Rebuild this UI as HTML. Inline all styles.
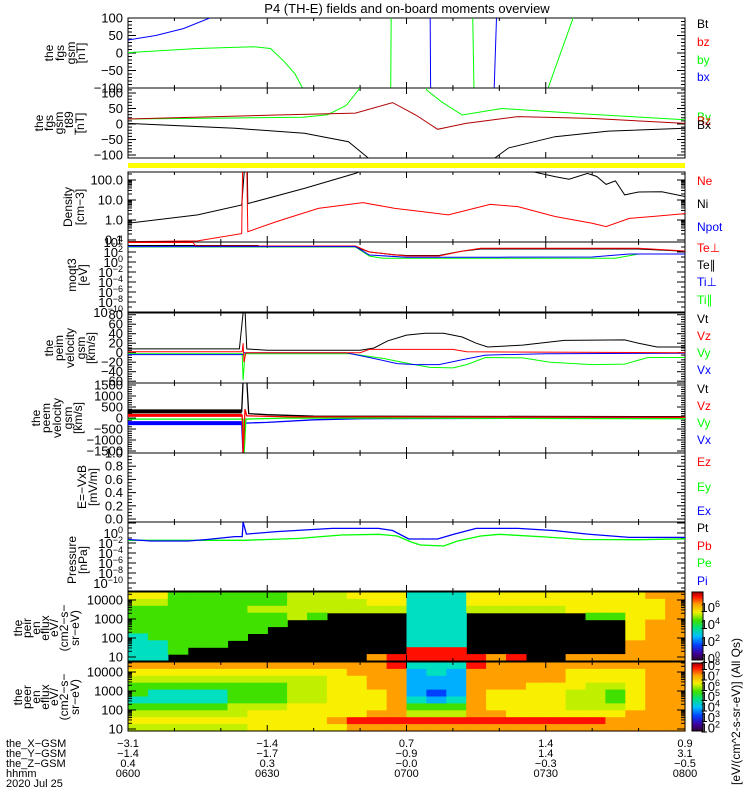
<!DOCTYPE html>
<html><head><meta charset="utf-8"><style>
html,body{margin:0;padding:0;background:#fff;}
svg{display:block;font-family:"Liberation Sans",sans-serif;}
</style></head><body>
<svg id="chart" width="750" height="800" viewBox="0 0 750 800" xmlns="http://www.w3.org/2000/svg">
<rect x="0" y="0" width="750" height="800" fill="#fff"/>
<text x="407" y="13" font-size="13" text-anchor="middle">P4 (TH-E) fields and on-board moments overview</text>
<defs>
<linearGradient id="cbar" x1="0" y1="1" x2="0" y2="0">
<stop offset="0" stop-color="#300030"/><stop offset="0.1" stop-color="#4000a0"/><stop offset="0.22" stop-color="#0040ff"/>
<stop offset="0.35" stop-color="#00c0ff"/><stop offset="0.47" stop-color="#00e080"/><stop offset="0.58" stop-color="#40e000"/>
<stop offset="0.7" stop-color="#f0f000"/><stop offset="0.82" stop-color="#ffa000"/><stop offset="0.93" stop-color="#ff1000"/><stop offset="1" stop-color="#a00000"/>
</linearGradient>
</defs>
<g id="layer"></g>
</svg>
<script>
// ---------- DATA ----------
const timeTickLabels=["0600","0630","0700","0730","0800"];
const xGsmLabels=["-3.1","-1.4","0.7","1.4","0.9"];
const yGsmLabels=["-1.4","-1.7","-0.9","1.4","3.1"];
const zGsmLabels=["0.4","0.3","-0.0","-0.3","-0.5"];
// panel 1 fgs gsm
const fgsBx=[[0,37],[6,50],[12,70],[17.6,100],[18,300],[65,300],[65.3,-300],[78.4,-300],[79.4,100],[79.6,300],[120,300]];
const fgsBy=[[0,1],[15,13],[27,18],[30.7,13],[33.7,-25],[36,-60],[37.6,-100],[38,-300],[56.5,-300],[56.8,300],[74,300],[74.8,-300],[90.5,-100],[95.9,100],[96.5,300],[120,300]];
// panel 2 fgs - t89
const t89Bz=[[0,16],[32,29],[49,35],[57,69],[62,29],[66.7,-17],[72.8,2],[84,24],[99.7,18],[120,2]];
const t89By=[[0,16],[37.6,22],[43,30],[47,60],[49.8,113],[50.5,200],[63.8,200],[64.3,110],[67.5,72],[72,29],[80.5,50],[100,31],[120,14]];
const t89Bx=[[0,2],[23,-14],[38,-30],[47.5,-57],[51.8,-110],[52.5,-200],[78.5,-200],[79,-110],[82,-77],[92,-41],[103.5,-23],[120,-14]];
// panel 3 density
const densNi=[[0,0.68],[15,1.8],[24.5,5.6],[25.1,400],[25.7,400],[25.8,6.6],[38,38],[49,214],[52,400],[83.6,400],[92,148],[95,110],[99,214],[101,150],[103,60],[105,90],[107,18],[110,25],[115,26],[120,15]];
const densNe=[[0,0.083],[15,0.09],[24.5,0.21],[24.7,400],[25.6,400],[25.8,0.26],[32,0.83],[41,3.8],[50.6,7.4],[57.5,3.8],[63.6,2.6],[69,1.8],[78,6],[84,4.7],[92,1.5],[100,0.68],[103,0.47],[108,1.2],[113,1.5],[120,2.1]];
// panel 4 temperatures
const tempTePerp=[[0,8000],[14,8000],[14.6,1600],[49,1600],[52,100],[57,30],[60,16],[67,16],[72,150],[76,550],[110,550],[120,160]];
const tempTePar=[[0,2000],[28,2000],[28.5,1000],[49,1000],[52,100],[57,30],[60,20],[67,20],[72,150],[76,400],[110,400],[120,140]];
const tempTiPerp=[[0,1200],[49,1200],[52,25],[60,9],[80,9],[100,10],[108,40],[120,40]];
const tempTiPar=[[0,1000],[49,1000],[52,15],[55,5.4],[105,5.4],[110,40],[120,40]];
// panel 5 peim velocity
const peimVt=[[0,8],[24,8],[24.8,84],[25.2,90],[25.6,8],[30,5],[50,5],[53,10],[56,25],[60,37],[64,41],[68,41],[72,33],[75,20],[77.5,12],[85,16],[94,26],[107,27],[110,20],[114,12],[120,12]];
const peimVz=[[0,2],[24.6,2],[24.8,20],[25,-20],[25.4,0],[50,0],[52,7],[70,7],[73,2],[120,0]];
const peimVy=[[0,-2],[24.6,-2],[24.8,-58],[25.2,-2],[48,-2],[55,-12],[60,-22],[65,-31],[70,-32],[73,-25],[77,-10],[85,-11],[91,-20],[100,-25],[107,-24],[112,-10],[120,-10]];
const peimVx=[[0,-4],[24.8,-4],[25,0],[47,0],[52,-10],[58,-23],[62,-25],[67,-25],[72,-15],[77,-5],[90,-2],[120,-1]];
// panel 6 peem velocity
const peemVt=[[0,300],[24.5,300],[24.8,1700],[25.6,1700],[26,200],[30,150],[40,80],[120,60]];
const peemVz=[[0,120],[24.6,120],[24.8,-1700],[25.2,400],[25.6,100],[35,50],[60,50],[120,30]];
const peemVy=[[0,-50],[24.8,-50],[25,-1700],[25.4,-50],[35,0],[120,-30]];
const peemVx=[[0,-230],[24.5,-230],[24.8,-1700],[25.2,-230],[30,-200],[40,-80],[50,-30],[120,0]];
// panel 8 pressure
const presPt=[[0,0.05],[5,0.025],[13,0.025],[17,0.05],[23,0.19],[24.6,0.19],[24.8,160],[25.5,0.6],[32,1.9],[38,4],[44,8.5],[54,8.5],[57,3.2],[60.5,0.063],[66.7,0.063],[70,0.5],[75,8.5],[84,8.5],[92,3],[99,0.6],[108,0.13],[120,0.13]];
const presPe=[[0,0.035],[25,0.035],[30,0.05],[37,0.085],[46,0.4],[54,0.54],[58,0.25],[61,0.016],[63,0.004],[68,0.0025],[71,0.025],[76,0.25],[80,0.54],[90,0.16],[98,0.05],[110,0.045],[120,0.07]];
// spectrograms: 28 time bins x 10 energy bins (top=high energy), digit = colour level, '.' = no data
const peirGrid=[
"7755555566677744477777777788",
"6655555566667744477777777778",
"5555556666666644466666777778",
"5555555565....444......55778",
"55555555......444........788",
"5555555.......444........788",
"455555........444........788",
"44555.........444........888",
"445...........999........888",
"44..........89999989..888888"];
const peerGrid=[
"8888888888888944498888888888",
"7777777777788834388888777788",
"6666666666778833388888777788",
"5555555566778833388877766788",
"5444455566777832387777665788",
"4444455566777843487777665788",
"5555566677777855587777666788",
"6666667777778866688777777888",
"7777777777899999999999998888",
"6666667777788888888888888888"];
const specTimeEdges=[0,120];
const colorbarUpperLabels=[6,4,2,0];
const colorbarLowerLabels=[8,7,6,5,4,3,2];

// ---------- LAYOUT / HELPERS ----------
const NS="http://www.w3.org/2000/svg";
const layer=document.getElementById('layer');
const X0=128,X1=685,T0=0,T1=120;
function xs(t){return X0+(t-T0)/(T1-T0)*(X1-X0);}
function mk(tag,attrs,parent){const e=document.createElementNS(NS,tag);for(const k in attrs)e.setAttribute(k,attrs[k]);(parent||layer).appendChild(e);return e;}
function linScale(top,bot,min,max){return v=>bot-(v-min)/(max-min)*(bot-top);}
function logScale(top,bot,lmin,lmax){return v=>bot-(Math.log10(v)-lmin)/(lmax-lmin)*(bot-top);}
const COLS=["#300030","#4000a0","#0040ff","#00b0ff","#00e0c0","#40e000","#c0f000","#f8f000","#ffa000","#ff1000"];

let clipId=0;
function panel(name,top,bot){
  const r=mk('rect',{x:X0,y:top,width:X1-X0,height:bot-top,fill:'none',stroke:'#000','stroke-width':1});
  
  
  const id='clip'+(clipId++);
  const cp=mk('clipPath',{id:id});
  mk('rect',{x:X0,y:top,width:X1-X0,height:bot-top},cp);
  for(let t=10;t<120;t+=10){
    const len=(t%30===0)?6:3;
    mk('line',{x1:xs(t),x2:xs(t),y1:top,y2:top+len,stroke:'#000'});
    mk('line',{x1:xs(t),x2:xs(t),y1:bot,y2:bot-len,stroke:'#000'});
  }
  return id;
}
function yTick(y,len){
  mk('line',{x1:X0,x2:X0+len,y1:y,y2:y,stroke:'#000'});
  mk('line',{x1:X1,x2:X1-len,y1:y,y2:y,stroke:'#000'});
}
function yLabel(y,txt,name){
  const t=mk('text',{x:123,y:y+4.5,'font-size':13,'text-anchor':'end'});
  t.textContent=txt;
  
  
}
function yExpLabel(y,exp,name,x){
  const t=mk('text',{x:x||123,y:y+5,'font-size':13,'text-anchor':'end'});
  t.appendChild(document.createTextNode('10'));
  const s=mk('tspan',{dy:-5,'font-size':9},t);
  s.textContent=String(exp);
  
  
}
function series(data,sc,color,clip,name,width){
  const pts=data.map(d=>xs(d[0]).toFixed(1)+','+sc(d[1]).toFixed(1)).join(' ');
  const p=mk('polyline',{points:pts,fill:'none',stroke:color,'stroke-width':width||1,'clip-path':'url(#'+clip+')'});
  
  
}
function axisTitle(lines,xsPos,cy,name){
  const g=mk('g',{});
  
  
  lines.forEach((s,i)=>{const t=mk('text',{x:xsPos[i]+4,y:cy,'font-size':12,'text-anchor':'middle',transform:'rotate(-90 '+(xsPos[i]+4)+' '+cy+')'},g);t.textContent=s;});
}
function legend(items,name){
  items.forEach(it=>{const t=mk('text',{x:697,y:it[2],'font-size':12,fill:it[1]});t.textContent=it[0];
    
    });
}
const RED="#ff0000",GRN="#00ff00",BLU="#0000ff",BLK="#000000";

// ---------- PANEL 1 ----------
{const top=18,bot=88,c=panel('fgs-panel',top,bot),sc=linScale(top,bot,-100,100);
 for(let v=-100;v<=100;v+=10)yTick(sc(v),v%50===0?8:4);
 [100,50,0,-50,-100].forEach(v=>yLabel(sc(v),v===0?'0':String(v).replace('-','\u2212'),'fgs-y-tick'));
 series(fgsBy,sc,GRN,c,'fgs-by-line');series(fgsBx,sc,BLU,c,'fgs-bx-line');
 axisTitle(['the','fgs','gsm','[nT]'],[49,60,71,81],53,'fgs-y-axis-title');
 legend([['Bt',BLK,28],['bz',RED,46],['by',GRN,64],['bx',BLU,81]],'fgs-legend');}
// ---------- PANEL 2 ----------
{const top=88,bot=158,c=panel('fgs-t89-panel',top,bot),sc=linScale(top,bot,-109.7,116.1);
 for(let v=-100;v<=110;v+=10)yTick(sc(v),v%50===0?8:4);
 [100,50,0,-50,-100].forEach(v=>yLabel(sc(v),v===0?'0':String(v).replace('-','\u2212'),'t89-y-tick'));
 series(t89By,sc,GRN,c,'t89-by-line');series(t89Bz,sc,'#b00000',c,'t89-bz-line');series(t89Bx,sc,BLK,c,'t89-bx-line');
 axisTitle(['the','fgs','gsm','_t89','[nT]'],[39,49,59,69,80],123,'t89-y-axis-title');
 legend([['By',GRN,121],['Bz',RED,125],['Bx',BLK,129]],'t89-legend');}
{const y=mk('rect',{x:X0,y:163,width:X1-X0,height:5,fill:'#ffff00'});
 }
// ---------- PANEL 3 ----------
{const top=172,bot=242,c=panel('density-panel',top,bot),sc=logScale(top,bot,-1.1,2.4);
 for(let d=-1;d<=2;d++){for(let m=1;m<10;m++){const v=m*Math.pow(10,d);const y=sc(v);if(y>=top&&y<=bot)yTick(y,m===1?8:4);}}
 [['100.0',100],['10.0',10],['1.0',1],['0.1',0.1]].forEach(l=>yLabel(sc(l[1]),l[0],'density-y-tick'));
 series(densNi,sc,BLK,c,'density-ni-line');series(densNe,sc,RED,c,'density-ne-line');
 axisTitle(['Density','[cm\u22123]'],[68,80],207,'density-y-axis-title');
 legend([['Ne',RED,185],['Ni',BLK,208],['Npot',BLU,231]],'density-legend');}
// ---------- PANEL 4 ----------
{const top=242,bot=312,c=panel('temperature-panel',top,bot),sc=logScale(top,bot,-10,4);
 for(let e=-10;e<=4;e++)yTick(sc(Math.pow(10,e)),e%2===0?8:4);
 [4,2,0,-2,-4,-6,-8,-10].forEach(e=>yExpLabel(sc(Math.pow(10,e)),e<0?'\u2212'+(-e):e,'temp-y-tick'));
 series(tempTePar,sc,BLK,c,'temp-tepar-line');series(tempTePerp,sc,RED,c,'temp-teperp-line');
 series(tempTiPar,sc,GRN,c,'temp-tipar-line');series(tempTiPerp,sc,BLU,c,'temp-tiperp-line');
 axisTitle(['moqt3','[eV]'],[72,83],275,'temp-y-axis-title');
 legend([['Te\u22a5',RED,252],['Te\u2225',BLK,269],['Ti\u22a5',BLU,286],['Ti\u2225',GRN,304]],'temp-legend');}
// ---------- PANEL 5 ----------
{const top=313,bot=383,c=panel('peim-velocity-panel',top,bot),sc=linScale(top,bot,-63.8,83.6);
 for(let v=-60;v<=80;v+=5)yTick(sc(v),v%20===0?8:4);
 [80,60,40,20,0,-20,-40,-60].forEach(v=>yLabel(sc(v),String(v).replace('-','\u2212'),'peim-y-tick'));
 series(peimVt,sc,BLK,c,'peim-vt-line');series(peimVy,sc,GRN,c,'peim-vy-line');
 series(peimVx,sc,BLU,c,'peim-vx-line');series(peimVz,sc,RED,c,'peim-vz-line');
 axisTitle(['the','peim','velocity','gsm','[km/s]'],[49,59,70,81,91],348,'peim-y-axis-title');
 legend([['Vt',BLK,323],['Vz',RED,340],['Vy',GRN,357],['Vx',BLU,374]],'peim-legend');}
// ---------- PANEL 6 ----------
{const top=383,bot=453,c=panel('peem-velocity-panel',top,bot),sc=linScale(top,bot,-1591,1591);
 for(let v=-1500;v<=1500;v+=100)yTick(sc(v),v%500===0?8:4);
 [1500,1000,500,0,-500,-1000,-1500].forEach(v=>yLabel(sc(v),String(v).replace('-','\u2212'),'peem-y-tick'));
 const early=a=>a.filter(d=>d[0]<=24.6);
 series(early(peemVx),sc,BLU,c,'peem-vx-noise',4);series(early(peemVy),sc,GRN,c,'peem-vy-noise',3);
 series(early(peemVt),sc,BLK,c,'peem-vt-noise',4);series(early(peemVz),sc,RED,c,'peem-vz-noise',3);
 series(peemVx,sc,BLU,c,'peem-vx-line',1.3);series(peemVy,sc,GRN,c,'peem-vy-line',1.3);
 series(peemVt,sc,BLK,c,'peem-vt-line',1.3);series(peemVz,sc,RED,c,'peem-vz-line',1.3);
 axisTitle(['the','peem','velocity','gsm','[km/s]'],[36,46,57,68,78],418,'peem-y-axis-title');
 legend([['Vt',BLK,393],['Vz',RED,410],['Vy',GRN,427],['Vx',BLU,444]],'peem-legend');}
// ---------- PANEL 7 ----------
{const top=453,bot=522,c=panel('efield-panel',top,bot),sc=linScale(top,bot,-0.045,1.0);
 for(let i=0;i<=20;i++){const v=i*0.05;yTick(sc(v),i%4===0?8:4);}
 [1,0.8,0.6,0.4,0.2,0].forEach(v=>yLabel(sc(v),v.toFixed(1),'efield-y-tick'));
 axisTitle(['E=\u2212VxB','[mV/m]'],[82,93],487,'efield-y-axis-title');
 legend([['Ez',RED,466],['Ey',GRN,491],['Ex',BLU,515]],'efield-legend');}
// ---------- PANEL 8 ----------
{const top=522,bot=591,c=panel('pressure-panel',top,bot),sc=logScale(top,bot,-11.6,2.2);
 for(let e=-11;e<=2;e++)yTick(sc(Math.pow(10,e)),e%2===0?8:4);
 [0,-2,-4,-6,-8,-10].forEach(e=>yExpLabel(sc(Math.pow(10,e)),e<0?'\u2212'+(-e):e,'pressure-y-tick'));
 series(presPe,sc,GRN,c,'pressure-pe-line',1.3);series(presPt,sc,BLU,c,'pressure-pt-line',1.3);
 axisTitle(['Pressure','[nPa]'],[72,83],560,'pressure-y-axis-title');
 legend([['Pt',BLK,532],['Pb',RED,550],['Pe',GRN,567],['Pi',BLU,585]],'pressure-legend');}
// ---------- SPECTROGRAMS ----------
function spectro(grid,top,bot,l10,name){
  const bg=mk('rect',{x:X0,y:top,width:X1-X0,height:bot-top,fill:'#000'});
  
  const nR=grid.length,nC=grid[0].length;
  const g=mk('g',{});
  for(let r=0;r<nR;r++)for(let k=0;k<nC;k++){
    const ch=grid[r][k];if(ch==='.'||ch===undefined)continue;
    const x0=xs(specTimeEdges[0]+(specTimeEdges[1]-specTimeEdges[0])*k/nC),x1=xs(specTimeEdges[0]+(specTimeEdges[1]-specTimeEdges[0])*(k+1)/nC);
    const y0=top+(bot-top)*r/nR,y1=top+(bot-top)*(r+1)/nR;
    const cell=mk('rect',{x:x0.toFixed(1),y:y0.toFixed(1),width:(x1-x0+0.6).toFixed(1),height:(y1-y0+0.6).toFixed(1),fill:COLS[+ch]},g);
    
  }
  panel(name,top,bot);
  const sc=e=>l10-19*(Math.log10(e)-1);
  for(let d=1;d<=4;d++)for(let m=1;m<10;m++){const y=sc(m*Math.pow(10,d));if(y>=top&&y<=bot)yTick(y,m===1?8:4);}
  [10000,1000,100,10].forEach(v=>yLabel(sc(v),String(v),name+'-y-tick'));
}
spectro(peirGrid,592,661,657,'peir-spectrogram');
spectro(peerGrid,662,731,729,'peer-spectrogram');
axisTitle(['the','peir','en','eflux','eV/','(cm2\u2212s\u2212','sr\u2212eV)'],[18,27,36,45,54,64,75],628,'peir-y-axis-title');
axisTitle(['the','peer','en','eflux','eV/','(cm2\u2212s\u2212','sr\u2212eV)'],[18,27,36,45,54,64,75],697,'peer-y-axis-title');
// colorbars
function cbar(top,bot,labels,name,y0,step){
  const r=mk('rect',{x:692,y:top,width:11,height:bot-top,fill:'url(#cbar)',stroke:'#000','stroke-width':1});
  
  labels.forEach((e,i)=>yExpLabel(y0+i*step,e,name+'-label',720));
}
cbar(592,660,colorbarUpperLabels,'peir-colorbar',607,17);
cbar(663,731,colorbarLowerLabels,'peer-colorbar',665,10.4);
{const t=mk('text',{x:740,y:785,'font-size':12,transform:'rotate(-90 740 785)'});
 t.textContent='[eV/(cm^2-s-sr-eV)] (All Qs)';
 }
// ---------- BOTTOM AXIS LABELS ----------
const rowNames=['the_X\u2212GSM','the_Y\u2212GSM','the_Z\u2212GSM','hhmm','2020 Jul 25'];
const rowVals=[xGsmLabels,yGsmLabels,zGsmLabels,timeTickLabels];
const rowY=[747,757,767,777,787];
rowNames.forEach((n,i)=>{const t=mk('text',{x:6,y:rowY[i],'font-size':11});t.textContent=n;
  });
rowVals.forEach((arr,i)=>arr.forEach((v,k)=>{const t=mk('text',{x:xs(k*30),y:rowY[i],'font-size':11,'text-anchor':'middle'});
  t.textContent=v.replace('-','\u2212');
  }));
</script>
</body></html>
